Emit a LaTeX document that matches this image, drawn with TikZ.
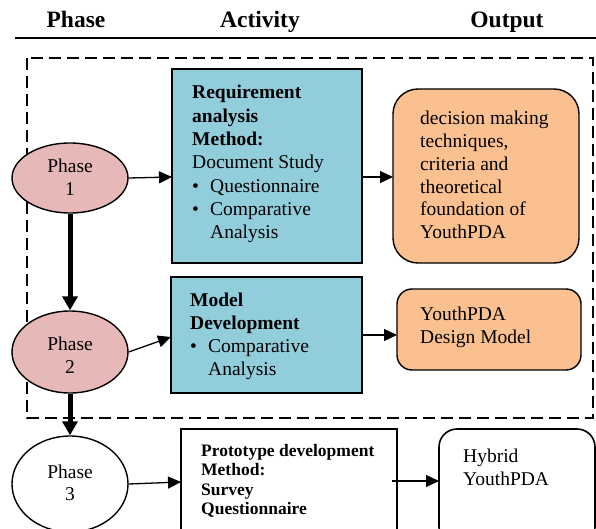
\documentclass[tikz,border=0pt]{standalone}
\usepackage{fontspec}
\setmainfont{Liberation Serif}
\usetikzlibrary{arrows.meta,shapes.geometric}
\definecolor{phasepink}{RGB}{230,185,184}
\definecolor{actblue}{RGB}{146,205,220}
\definecolor{outorange}{RGB}{250,192,144}
\tikzset{
  hdr/.style={font=\fontsize{23.5}{26}\selectfont\bfseries, anchor=base, inner sep=0},
  phasebox/.style={ellipse, draw, line width=1.4pt, inner sep=0},
  txt/.style={anchor=base west, inner sep=0, align=left, font=\fontsize{19.5}{23.3}\selectfont},
  smalltxt/.style={anchor=base west, inner sep=0, align=left, font=\fontsize{17.5}{19.6}\selectfont\bfseries},
  actbox/.style={draw, line width=1.6pt, fill=actblue},
  outbox/.style={draw, line width=1.4pt, fill=outorange},
  arr/.style={line width=1.3pt, -{Triangle[length=13pt,width=12pt]}},
  thick arr/.style={line width=5pt, -{Triangle[length=14pt,width=15pt]}},
}
\newcommand{\bul}{\makebox[18pt][l]{\textbullet}}
\begin{document}
\begin{tikzpicture}[x=1pt,y=-1pt]
\useasboundingbox (0,0) rectangle (596,529);
\clip (0,0) rectangle (596,529);
% header
\node[hdr] (hphase) at (76,28) {Phase};
\node[hdr] (hact) at (260,28) {Activity};
\node[hdr] (hout) at (507,28) {Output};
\draw[line width=2pt] (15,38) coordinate (rl) -- (596,38) coordinate (rr);
% dashed frame
\draw[line width=1.5pt, dash pattern=on 12pt off 6pt] (27,58) rectangle (593,418);
% activity boxes (text nodes anchored at the baseline of their last line)
\draw[actbox] (172,69) coordinate (b1nw) rectangle (362,263) coordinate (b1se);
\coordinate (b1w) at (172,177); \coordinate (b1e) at (362,177);
\node[txt] (t1) at (192,238.8) {\textbf{Requirement}\\\textbf{analysis}\\\textbf{Method:}\\Document Study\\\bul Questionnaire\\\bul Comparative\\\hspace*{18pt}Analysis};
\draw[actbox] (171,277) rectangle (362,393);
\coordinate (b2w) at (171,337); \coordinate (b2e) at (362,335);
\node[txt] (t2) at (190,375.9) {\textbf{Model}\\\textbf{Development}\\\bul Comparative\\\hspace*{18pt}Analysis};
\draw[draw, line width=1.6pt, fill=white] (181,429) rectangle (397,545);
\coordinate (b3w) at (181,482); \coordinate (b3e) at (392,481);
\node[smalltxt] (t3) at (201,514.8) {Prototype development\\Method:\\Survey\\Questionnaire};
% output boxes
\draw[outbox, rounded corners=25pt] (393,89) rectangle (579,263);
\coordinate (o1w) at (393,177);
\node[txt, font=\fontsize{19.5}{22.7}\selectfont] (to1) at (420,238.5) {decision making\\techniques,\\criteria and\\theoretical\\foundation of\\YouthPDA};
\draw[outbox, rounded corners=15pt] (397,289) rectangle (581,370);
\coordinate (o2w) at (397,335);
\node[txt] (to2) at (420,343.3) {YouthPDA\\Design Model};
\draw[line width=1.6pt, fill=white, rounded corners=18pt] (439,429) rectangle (595,545);
\coordinate (o3w) at (439,481);
\node[txt] (to3) at (463,485.3) {Hybrid\\YouthPDA};
% phases
\node[phasebox, fill=phasepink, minimum width=116pt, minimum height=70pt] (p1) at (70,178) {};
\node[phasebox, fill=phasepink, minimum width=116pt, minimum height=82pt] (p2) at (70,352) {};
\node[phasebox, fill=white, minimum width=116pt, minimum height=96pt] (p3) at (70,484) {};
\node[txt, anchor=base, align=center, font=\fontsize{19.5}{23}\selectfont] (p1t) at (70,196) {Phase\\1};
\node[txt, anchor=base, align=center, font=\fontsize{19.5}{23}\selectfont] (p2t) at (70,373) {Phase\\2};
\node[txt, anchor=base, align=center, font=\fontsize{19.5}{22}\selectfont] (p3t) at (70,500) {Phase\\3};
% arrows
\draw[thick arr] (p1.south) -- (p2.north);
\draw[thick arr] (p2.south) -- (p3.north);
\draw[arr] (p1.east) -- (b1w);
\draw[arr] (b1e) -- (o1w);
\draw[arr] (p2.east) -- (b2w);
\draw[arr] (b2e) -- (o2w);
\draw[arr] (p3.east) -- (b3w);
\draw[arr] (b3e) -- (o3w);
\end{tikzpicture}
\end{document}
